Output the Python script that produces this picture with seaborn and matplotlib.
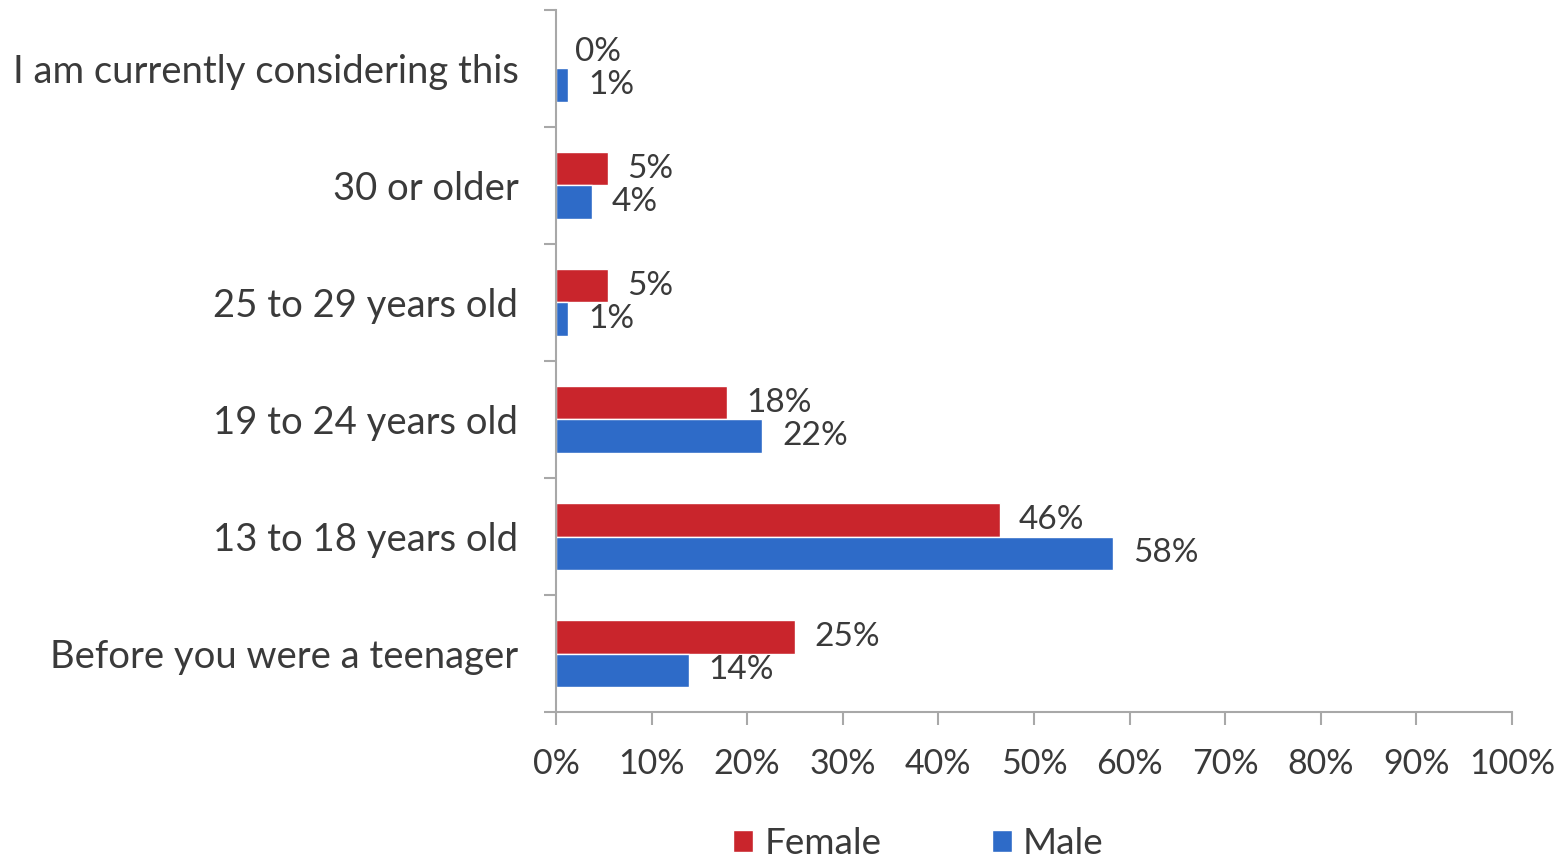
import matplotlib
matplotlib.use("Agg")
import matplotlib.pyplot as plt
from matplotlib.ticker import FixedLocator, FuncFormatter
import seaborn as sns
import pandas as pd

categories = ["I am currently considering this", "30 or older", "25 to 29 years old",
              "19 to 24 years old", "13 to 18 years old", "Before you were a teenager"]
female = [0.0, 5.4, 5.4, 17.9, 46.4, 25.0]
male = [1.3, 3.8, 1.3, 21.6, 58.3, 13.9]
groups = ["Female", "Male"]
colors = ["#c9252c", "#2e6bc8"]

df = pd.DataFrame({
    "category": categories * 2,
    "value": female + male,
    "gender": ["Female"] * len(categories) + ["Male"] * len(categories),
})

sns.set_style("white")
plt.rcParams["font.family"] = ["Lato", "DejaVu Sans"]
text_color = "#3a3a3a"

fig = plt.figure(figsize=(15.67, 8.59), dpi=100)
ax = fig.add_axes([0.3548, 0.1711, 0.9649 - 0.3548, 0.9884 - 0.1711])

sns.barplot(data=df, y="category", x="value", hue="gender", orient="h",
            order=categories, hue_order=groups, palette=colors,
            width=0.58, saturation=1, ax=ax)

for cont in ax.containers:
    labels = [f"{round(b.get_width())}%" for b in cont]
    ax.bar_label(cont, labels=labels, padding=14, fontsize=24, color=text_color)

ax.set_xlim(0, 100)
ax.set_ylim(len(categories) - 0.5, -0.5)
ax.xaxis.set_major_locator(FixedLocator(range(0, 101, 10)))
ax.xaxis.set_major_formatter(FuncFormatter(lambda v, p: f"{v:.0f}%"))
ax.yaxis.set_minor_locator(FixedLocator([i - 0.5 for i in range(len(categories) + 1)]))
ax.tick_params(axis="y", which="major", length=0, pad=27, labelsize=27.5, labelcolor=text_color)
ax.tick_params(axis="y", which="minor", length=9, width=1.5, color="#a8a8a8", left=True)
ax.tick_params(axis="x", which="major", length=9, width=1.5, color="#a8a8a8",
               bottom=True, pad=17, labelsize=24.5, labelcolor=text_color)
ax.set_xlabel("")
ax.set_ylabel("")

for side in ["top", "right"]:
    ax.spines[side].set_visible(False)
for side in ["left", "bottom"]:
    ax.spines[side].set_color("#a8a8a8")
    ax.spines[side].set_linewidth(1.5)

handles, labs = ax.get_legend_handles_labels()
ax.get_legend().remove()
fig.legend(handles, labs, loc="center", bbox_to_anchor=(0.586, 0.018), ncol=2,
           frameon=False, fontsize=26.5, handlelength=0.55, handleheight=0.55,
           handletextpad=0.3, columnspacing=3, labelcolor=text_color)

fig.savefig("out.png", dpi=100)
